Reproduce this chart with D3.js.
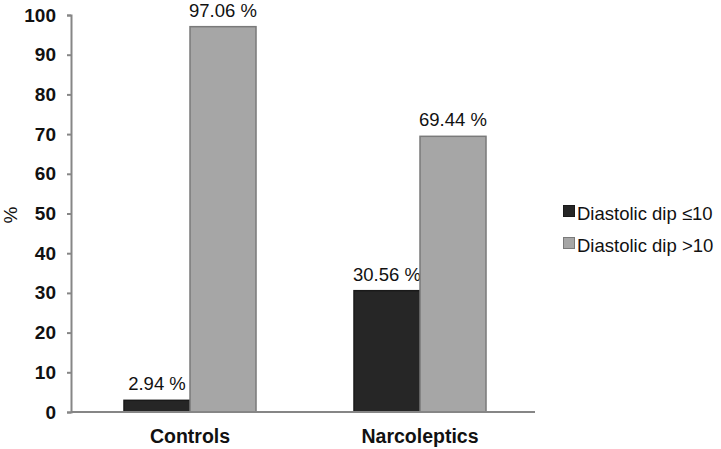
<!DOCTYPE html>
<html><head><meta charset="utf-8">
<script src="https://cdn.jsdelivr.net/npm/d3@7"></script>
<style>body{margin:0;background:#fff}svg{display:block}text{font-family:"Liberation Sans",Arial,sans-serif}</style>
</head><body><svg id="c" width="721" height="449"></svg>
<script>
const categories = ["Controls", "Narcoleptics"];
const seriesNames = ["Diastolic dip \u226410", "Diastolic dip >10"];
const dipLE10 = [2.94, 30.56];
const dipGT10 = [97.06, 69.44];
const yTicks = [0,10,20,30,40,50,60,70,80,90,100];
const colors = ["#262626", "#a6a6a6"];
const strokes = ["#1a1a1a", "#7a7a7a"];

const svg = d3.select("#c");
const axisX = 71, mLeft = 75, mRight = 535, mTop = 15, mBottom = 412;
const x = d3.scaleBand().domain(categories).range([mLeft, mRight]);
const y = d3.scaleLinear().domain([0, 100]).range([mBottom, mTop]);
const barW = x.bandwidth() * 0.287;
const series = [dipLE10, dipGT10];
const FF = '"Liberation Sans",Arial,sans-serif';

// bars
series.forEach((vals, si) => {
  svg.append("g").selectAll("rect").data(categories).join("rect")
    .attr("x", (d) => x(d) + x.bandwidth()/2 + (si - 1) * barW)
    .attr("y", (d,i) => y(vals[i]))
    .attr("width", barW)
    .attr("height", (d,i) => y(0) - y(vals[i]))
    .attr("fill", colors[si])
    .attr("stroke", strokes[si]).attr("stroke-width", 1.5);
  svg.append("g").selectAll("text").data(categories).join("text")
    .attr("x", (d) => x(d) + x.bandwidth()/2 + (si - 0.5) * barW)
    .attr("y", (d,i) => y(vals[i]) - 10)
    .attr("text-anchor", "middle").attr("font-size", 18.5).attr("fill", "#111")
    .text((d,i) => vals[i].toFixed(2) + " %");
});

// y axis
const yAxis = svg.append("g").attr("transform", `translate(${axisX},0)`)
  .call(d3.axisLeft(y).tickValues(yTicks).tickSize(4).tickPadding(11).tickFormat(d3.format("d")));
yAxis.select(".domain").attr("stroke", "#868686").attr("stroke-width", 2);
yAxis.selectAll(".tick line").attr("stroke", "#868686").attr("stroke-width", 2);
yAxis.selectAll(".tick text").attr("font-size", 19).attr("font-weight", "bold").attr("fill", "#111")
  .style("font-family", FF);

// x axis
const xAxis = svg.append("g").attr("transform", `translate(0,${mBottom})`)
  .call(d3.axisBottom(x).tickSize(0).tickPadding(17));
xAxis.select(".domain").attr("d", `M${axisX},0H${mRight}`).attr("stroke", "#868686").attr("stroke-width", 2);
xAxis.selectAll(".tick text").attr("font-size", 19.5).attr("font-weight", "bold").attr("fill", "#111")
  .style("font-family", FF);

// y label
svg.append("text").attr("transform", "translate(17,215) rotate(-90)")
  .attr("text-anchor", "middle").attr("font-size", 19).attr("fill", "#111").text("%");

// legend
const lg = svg.append("g");
seriesNames.forEach((n, i) => {
  const ly = 211 + i * 32;
  lg.append("rect").attr("x", 563.5).attr("y", ly - 5.5).attr("width", 11).attr("height", 11)
    .attr("fill", colors[i]).attr("stroke", strokes[i]);
  lg.append("text").attr("x", 577).attr("y", ly + 8.5).attr("font-size", 18.5).attr("fill", "#111").text(n);
});
</script></body></html>
